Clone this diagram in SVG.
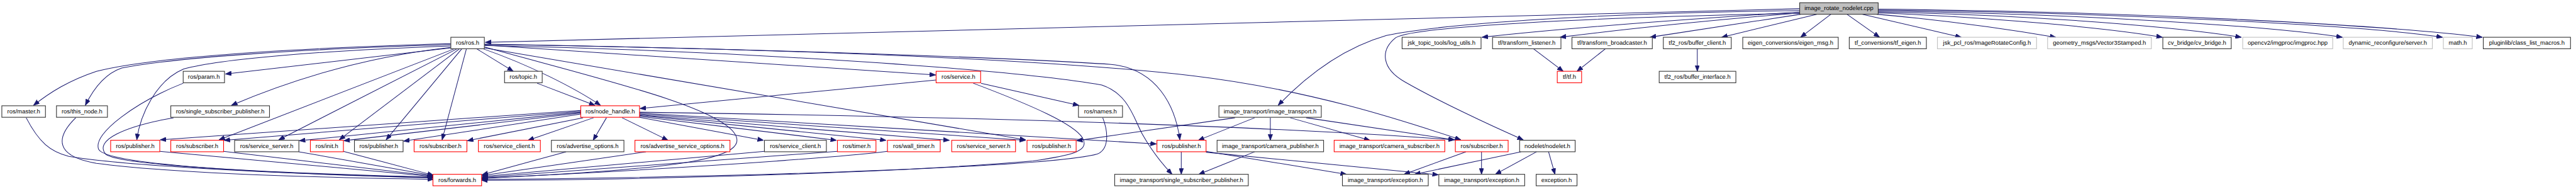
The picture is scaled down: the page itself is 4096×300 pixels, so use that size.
<svg xmlns="http://www.w3.org/2000/svg" width="4096" height="300" viewBox="0 0 4096 300">
<style>
.n rect{fill:#fff;stroke:#333;stroke-width:1.5}
.n.r rect{stroke:#ff0000}
.n.g rect{stroke:#bfbfbf}
.n.root rect{fill:#bfbfbf}
.n text{font-family:"Liberation Sans",Arial,Helvetica,sans-serif;font-size:13px;fill:#000;text-anchor:middle}
#edges path{fill:none;stroke:#191970;stroke-width:1.4;marker-end:url(#a)}
</style>
<defs>
<marker id="a" markerUnits="userSpaceOnUse" markerWidth="14" markerHeight="10" refX="13" refY="5" orient="auto"><path d="M0,0 L13,5 L0,10 z" fill="#191970" stroke="#191970" stroke-width="1"/></marker>
</defs>
<rect width="4096" height="300" fill="#fff"/>
<g transform="scale(0.73)">
<g id="edges">
<path d="M3920,19 L1057,92"/>
<path d="M3920,26 C3700,40 3400,62 3228,81"/>
<path d="M3920,28 C3750,42 3550,62 3398,81"/>
<path d="M3922,31 L3594,81"/>
<path d="M3957,31 L3750,81"/>
<path d="M3988,31 L3922,81"/>
<path d="M4023,31 L4094,81"/>
<path d="M4057,31 L4272,81"/>
<path d="M4088,31 C4250,45 4400,68 4478,81"/>
<path d="M4091,28 C4350,38 4600,62 4710,81"/>
<path d="M4091,26 C4450,33 4750,60 4882,81"/>
<path d="M4091,24 C4550,30 4950,58 5102,81"/>
<path d="M4091,22 C4600,27 5150,55 5320,81"/>
<path d="M4091,20 C4650,25 5200,55 5407,81"/>
<path d="M3920,23 C3500,28 3150,50 3020,77 C2940,100 2860,150 2784,229"/>
<path d="M3920,29 C3450,38 3080,58 3040,82 C3005,110 3010,150 3060,178 C3130,218 3240,270 3318,304"/>
<path d="M982,95 C600,106 330,125 210,155 C150,175 110,200 73,229"/>
<path d="M982,97 C650,107 380,125 265,148 C230,160 205,190 186,229"/>
<path d="M982,100 C700,110 480,128 400,150 C340,175 305,250 298,304"/>
<path d="M982,104 L491,161"/>
<path d="M982,103 C780,125 620,180 504,229"/>
<path d="M990,106 L477,304"/>
<path d="M996,106 L607,304"/>
<path d="M1001,106 L739,304"/>
<path d="M1006,106 L841,304"/>
<path d="M1016,106 L963,304"/>
<path d="M1038,106 L1118,155"/>
<path d="M1052,106 C1150,140 1250,190 1308,229"/>
<path d="M1055,98 L2038,163"/>
<path d="M1055,104 L2234,304"/>
<path d="M1055,96 C1600,105 2200,125 2420,140 C2520,150 2560,230 2570,304"/>
<path d="M1055,97 C1700,105 2300,130 2600,165 C2850,195 3050,260 3182,304"/>
<path d="M1055,99 C1600,110 2200,150 2400,185 C2460,205 2470,260 2490,295 C2510,330 2530,355 2553,379"/>
<path d="M1055,102 C1300,170 1560,230 1600,290 C1640,350 1450,368 1049,388"/>
<path d="M1170,181 L1296,229"/>
<path d="M2039,174 L1394,236"/>
<path d="M2137,181 L2350,229"/>
<path d="M2120,181 C2250,230 2340,270 2358,300 C2375,330 2330,338 2250,350 C1900,380 1300,392 1049,392"/>
<path d="M2402,256 C2415,290 2415,325 2390,335 C2300,360 1700,385 1049,390"/>
<path d="M1265,240 L349,304"/>
<path d="M1265,242 L488,305"/>
<path d="M1265,244 L652,306"/>
<path d="M1265,246 L749,306"/>
<path d="M1265,248 L879,307"/>
<path d="M1270,256 L1018,306"/>
<path d="M1293,256 L1150,305"/>
<path d="M1321,256 L1292,305"/>
<path d="M1355,256 L1455,305"/>
<path d="M1393,255 L1663,305"/>
<path d="M1393,253 L1822,305"/>
<path d="M1393,251 L1930,305"/>
<path d="M1393,250 L2068,305"/>
<path d="M1393,248 L2234,305"/>
<path d="M1393,246 C1800,268 2200,295 2519,313"/>
<path d="M1393,244 C2000,252 2700,270 3168,304"/>
<path d="M57,256 C85,310 110,330 150,340 C300,365 700,380 944,387"/>
<path d="M165,256 C120,300 120,340 210,355 C400,380 750,387 944,390"/>
<path d="M399,181 C300,220 200,290 215,325 C235,360 600,378 944,386"/>
<path d="M378,256 C270,275 205,305 230,335 C260,362 650,378 944,385"/>
<path d="M348,329 L944,384"/>
<path d="M487,329 L944,383"/>
<path d="M651,330 L944,382"/>
<path d="M748,329 L944,381"/>
<path d="M1233,330 L1050,380"/>
<path d="M1407,330 L1050,382"/>
<path d="M1665,329 L1050,384"/>
<path d="M1824,329 L1050,386"/>
<path d="M1933,329 C1800,345 1400,372 1050,387"/>
<path d="M2690,256 L2345,306"/>
<path d="M2733,256 L2610,305"/>
<path d="M2767,256 L2767,305"/>
<path d="M2810,256 L2984,305"/>
<path d="M2845,256 L3168,304"/>
<path d="M2733,330 L2611,379"/>
<path d="M2573,330 L2573,379"/>
<path d="M2627,329 L2933,379"/>
<path d="M2627,331 L3133,380"/>
<path d="M3193,330 L3058,379"/>
<path d="M3227,330 L3227,379"/>
<path d="M3313,330 L3081,379"/>
<path d="M3347,330 L3257,379"/>
<path d="M3373,330 L3387,379"/>
<path d="M3340,106 L3405,155"/>
<path d="M3497,106 L3435,155"/>
<path d="M3697,106 L3697,155"/>
</g>
<g id="n_root" class="n root"><rect x="3920" y="6" width="171" height="25"/><text x="4005.5" y="22.5">image_rotate_nodelet.cpp</text></g>
<g id="n_ros" class="n"><rect x="982" y="81" width="73" height="25"/><text x="1018.5" y="97.5">ros/ros.h</text></g>
<g id="n_logutils" class="n"><rect x="3054" y="81" width="172" height="25"/><text x="3140" y="97.5">jsk_topic_tools/log_utils.h</text></g>
<g id="n_tflistener" class="n"><rect x="3251" y="81" width="149" height="25"/><text x="3325.5" y="97.5">tf/transform_listener.h</text></g>
<g id="n_tfbroad" class="n"><rect x="3424" y="81" width="175" height="25"/><text x="3511.5" y="97.5">tf/transform_broadcaster.h</text></g>
<g id="n_bufclient" class="n"><rect x="3623" y="81" width="148" height="25"/><text x="3697" y="97.5">tf2_ros/buffer_client.h</text></g>
<g id="n_eigenmsg" class="n"><rect x="3796" y="81" width="208" height="25"/><text x="3900" y="97.5">eigen_conversions/eigen_msg.h</text></g>
<g id="n_tfeigen" class="n"><rect x="4028" y="81" width="168" height="25"/><text x="4112" y="97.5">tf_conversions/tf_eigen.h</text></g>
<g id="n_irconfig" class="n g"><rect x="4220" y="81" width="216" height="25"/><text x="4328" y="97.5">jsk_pcl_ros/ImageRotateConfig.h</text></g>
<g id="n_vec3" class="n g"><rect x="4460" y="81" width="226" height="25"/><text x="4573" y="97.5">geometry_msgs/Vector3Stamped.h</text></g>
<g id="n_cvbridge" class="n"><rect x="4711" y="81" width="149" height="25"/><text x="4785.5" y="97.5">cv_bridge/cv_bridge.h</text></g>
<g id="n_imgproc" class="n g"><rect x="4885" y="81" width="196" height="25"/><text x="4983" y="97.5">opencv2/imgproc/imgproc.hpp</text></g>
<g id="n_dynrec" class="n g"><rect x="5104" y="81" width="194" height="25"/><text x="5201" y="97.5">dynamic_reconfigure/server.h</text></g>
<g id="n_math" class="n g"><rect x="5322" y="81" width="63" height="25"/><text x="5353.5" y="97.5">math.h</text></g>
<g id="n_pluginlib" class="n"><rect x="5409" y="81" width="190" height="25"/><text x="5504" y="97.5">pluginlib/class_list_macros.h</text></g>
<g id="n_param" class="n"><rect x="399" y="155" width="90" height="25"/><text x="444" y="171.5">ros/param.h</text></g>
<g id="n_topic" class="n"><rect x="1099" y="155" width="82" height="25"/><text x="1140" y="171.5">ros/topic.h</text></g>
<g id="n_service" class="n r"><rect x="2039" y="155" width="97" height="25"/><text x="2087.5" y="171.5">ros/service.h</text></g>
<g id="n_tf" class="n r"><rect x="3392" y="155" width="53" height="25"/><text x="3418.5" y="171.5">tf/tf.h</text></g>
<g id="n_bufiface" class="n"><rect x="3614" y="155" width="167" height="25"/><text x="3697.5" y="171.5">tf2_ros/buffer_interface.h</text></g>
<g id="n_master" class="n"><rect x="4" y="230" width="95" height="25"/><text x="51.5" y="246.5">ros/master.h</text></g>
<g id="n_thisnode" class="n"><rect x="123" y="230" width="111" height="25"/><text x="178.5" y="246.5">ros/this_node.h</text></g>
<g id="n_ssp" class="n"><rect x="372" y="230" width="215" height="25"/><text x="479.5" y="246.5">ros/single_subscriber_publisher.h</text></g>
<g id="n_nh" class="n r"><rect x="1265" y="230" width="128" height="25"/><text x="1329" y="246.5">ros/node_handle.h</text></g>
<g id="n_names" class="n"><rect x="2349" y="230" width="96" height="25"/><text x="2397" y="246.5">ros/names.h</text></g>
<g id="n_it" class="n"><rect x="2655" y="230" width="223" height="25"/><text x="2766.5" y="246.5">image_transport/image_transport.h</text></g>
<g id="n_pub1" class="n r"><rect x="241" y="305" width="107" height="25"/><text x="294.5" y="321.5">ros/publisher.h</text></g>
<g id="n_sub1" class="n r"><rect x="372" y="305" width="115" height="25"/><text x="429.5" y="321.5">ros/subscriber.h</text></g>
<g id="n_ss1" class="n"><rect x="511" y="305" width="140" height="25"/><text x="581" y="321.5">ros/service_server.h</text></g>
<g id="n_init" class="n r"><rect x="676" y="305" width="72" height="25"/><text x="712" y="321.5">ros/init.h</text></g>
<g id="n_pub2" class="n"><rect x="772" y="305" width="106" height="25"/><text x="825" y="321.5">ros/publisher.h</text></g>
<g id="n_sub2" class="n r"><rect x="902" y="305" width="115" height="25"/><text x="959.5" y="321.5">ros/subscriber.h</text></g>
<g id="n_sc1" class="n r"><rect x="1042" y="305" width="135" height="25"/><text x="1109.5" y="321.5">ros/service_client.h</text></g>
<g id="n_ao" class="n"><rect x="1201" y="305" width="158" height="25"/><text x="1280" y="321.5">ros/advertise_options.h</text></g>
<g id="n_aso" class="n r"><rect x="1383" y="305" width="207" height="25"/><text x="1486.5" y="321.5">ros/advertise_service_options.h</text></g>
<g id="n_sc2" class="n"><rect x="1665" y="305" width="135" height="25"/><text x="1732.5" y="321.5">ros/service_client.h</text></g>
<g id="n_timer" class="n r"><rect x="1824" y="305" width="84" height="25"/><text x="1866" y="321.5">ros/timer.h</text></g>
<g id="n_wt" class="n r"><rect x="1933" y="305" width="115" height="25"/><text x="1990.5" y="321.5">ros/wall_timer.h</text></g>
<g id="n_ss2" class="n r"><rect x="2073" y="305" width="139" height="25"/><text x="2142.5" y="321.5">ros/service_server.h</text></g>
<g id="n_pub3" class="n r"><rect x="2237" y="305" width="107" height="25"/><text x="2290.5" y="321.5">ros/publisher.h</text></g>
<g id="n_pub4" class="n r"><rect x="2520" y="305" width="107" height="25"/><text x="2573.5" y="321.5">ros/publisher.h</text></g>
<g id="n_campub" class="n"><rect x="2651" y="305" width="232" height="25"/><text x="2767" y="321.5">image_transport/camera_publisher.h</text></g>
<g id="n_camsub" class="n r"><rect x="2906" y="305" width="241" height="25"/><text x="3026.5" y="321.5">image_transport/camera_subscriber.h</text></g>
<g id="n_sub3" class="n r"><rect x="3170" y="305" width="115" height="25"/><text x="3227.5" y="321.5">ros/subscriber.h</text></g>
<g id="n_nodelet" class="n"><rect x="3310" y="305" width="121" height="25"/><text x="3370.5" y="321.5">nodelet/nodelet.h</text></g>
<g id="n_fwd" class="n r"><rect x="943" y="379" width="106" height="25"/><text x="996" y="395.5">ros/forwards.h</text></g>
<g id="n_itssp" class="n"><rect x="2428" y="379" width="291" height="25"/><text x="2573.5" y="395.5">image_transport/single_subscriber_publisher.h</text></g>
<g id="n_itexc1" class="n"><rect x="2924" y="379" width="187" height="25"/><text x="3017.5" y="395.5">image_transport/exception.h</text></g>
<g id="n_itexc2" class="n"><rect x="3134" y="379" width="187" height="25"/><text x="3227.5" y="395.5">image_transport/exception.h</text></g>
<g id="n_exc" class="n"><rect x="3346" y="379" width="89" height="25"/><text x="3390.5" y="395.5">exception.h</text></g>
</g>
</svg>
